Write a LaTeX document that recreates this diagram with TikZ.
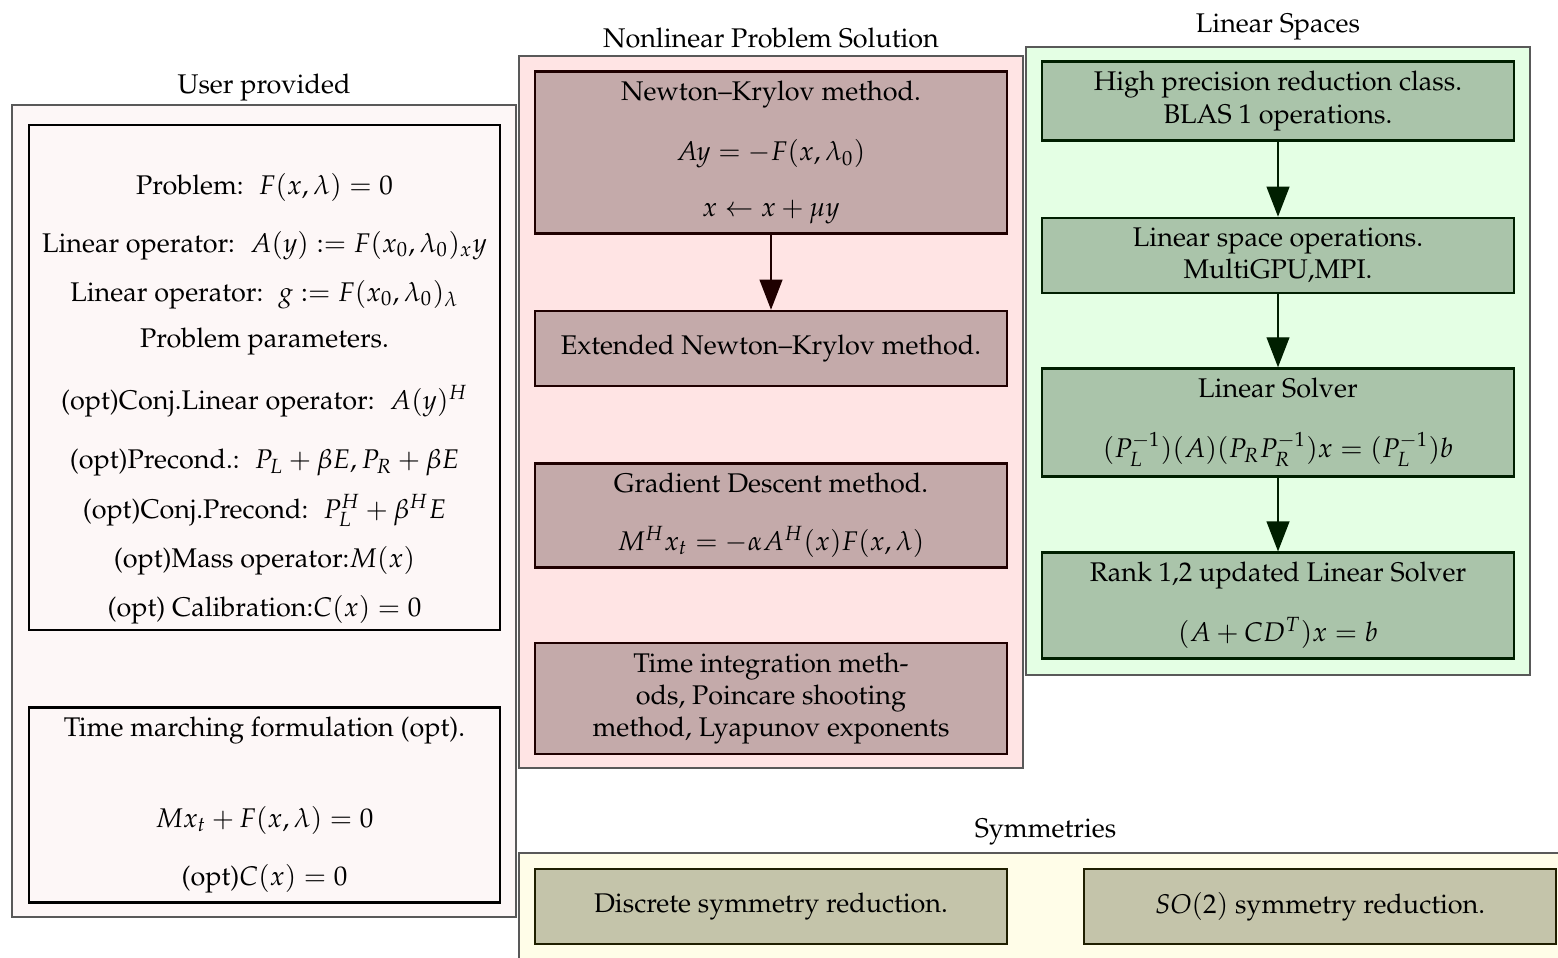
\documentclass[tikz,border=0pt]{standalone}
\usepackage[T1]{fontenc}
\usepackage{mathpazo}
\usepackage{amsmath}
\usetikzlibrary{arrows.meta,positioning}
\definecolor{usrfill}{RGB}{253,247,247}
\definecolor{nlfill}{RGB}{255,228,228}
\definecolor{nlbox}{RGB}{196,170,170}
\definecolor{nldraw}{RGB}{31,0,0}
\definecolor{lsfill}{RGB}{228,255,228}
\definecolor{lsbox}{RGB}{170,196,170}
\definecolor{lsdraw}{RGB}{0,31,0}
\definecolor{syfill}{RGB}{255,253,232}
\definecolor{sybox}{RGB}{196,196,170}
\definecolor{sydraw}{RGB}{31,31,0}

\tikzset{
  panel/.style={draw=black!65, line width=0.5pt},
  paneltitle/.style={inner sep=3pt},
  usrbox/.style={draw=black, line width=0.9pt, fill=usrfill, minimum width=164.85pt, align=center},
  nlblock/.style={draw=nldraw, line width=0.9pt, fill=nlbox, minimum width=165.2pt, align=center},
  lsblock/.style={draw=lsdraw, line width=0.9pt, fill=lsbox, minimum width=165.2pt, align=center},
  syblock/.style={draw=sydraw, line width=0.9pt, fill=sybox, minimum width=165.2pt, minimum height=26.25pt, align=center},
  nlarrow/.style={-{Triangle[length=10.5pt,width=8pt]}, draw=nldraw, line width=0.5pt},
  lsarrow/.style={-{Triangle[length=10.5pt,width=8pt]}, draw=lsdraw, line width=0.5pt}
}

\begin{document}
\begin{tikzpicture}[x=0.35pt, y=-0.35pt, font=\fontsize{9.45pt}{11.3pt}\selectfont]
\useasboundingbox (0,0) rectangle (1558,958);

% User provided
\node[panel, fill=usrfill, minimum width=176.4pt, minimum height=284.2pt] (usrpanel) at (264,511) {};
\node[paneltitle, above=-2pt of usrpanel] (usrtitle) {User provided};
\node[usrbox, inner ysep=0.5pt, minimum height=176.75pt] (usrprob) at (264.5,377.5) {\rule{0pt}{22pt}Problem:~ $F(x,\lambda)=0$\\[9pt]
  Linear operator:~ $A(y):=F(x_0,\lambda_0)_x y$\\[5.85pt]
  Linear operator:~ $g:=F(x_0,\lambda_0)_\lambda$\\[4.8pt]
  Problem parameters.\\[10.4pt]
  (opt)Conj.Linear operator:~ $A(y)^H$\\[9.5pt]
  (opt)Precond.:~ $P_L+\beta E, P_R+\beta E$\\[6.1pt]
  (opt)Conj.Precond:~ $P_L^H+\beta^H E$\\[5.85pt]
  (opt)Mass operator:$M(x)$\\[5.85pt]
  (opt) Calibration:$C(x)=0$};
\node[usrbox, minimum height=67.9pt] (usrtime) at (264.5,805) {Time marching formulation (opt).\\[20.55pt]
  $Mx_t+F(x,\lambda)=0$\\[9pt]
  (opt)$C(x)=0$};

% Nonlinear Problem Solution
\node[panel, fill=nlfill, minimum width=176.4pt, minimum height=249.2pt] (nlpanel) at (771,412) {};
\node[paneltitle, above=-0.8pt of nlpanel] (nltitle) {Nonlinear Problem Solution};
\node[nlblock, minimum height=56.35pt] (nk) at (771,152.5) {Newton--Krylov method.\\[9.7pt]
  $Ay=-F(x,\lambda_0)$\\[8.3pt]
  $x\leftarrow x+\mu y$};
\node[nlblock, minimum height=26.25pt] (enk) at (771,348.5) {Extended Newton--Krylov method.};
\node[nlblock, minimum height=36.05pt] (gd) at (771,515.5) {Gradient Descent method.\\[9pt]
  $M^Hx_t=-\alpha A^H(x)F(x,\lambda)$};
\node[nlblock, minimum height=37.45pt] (ti) at (771,698.5) {Time integration meth-\\
  ods, Poincare shooting\\
  method, Lyapunov exponents};
\draw[nlarrow] (nk) -- (enk);

% Linear Spaces
\node[panel, fill=lsfill, minimum width=176.4pt, minimum height=219.8pt] (lspanel) at (1278,361) {};
\node[paneltitle, above=-1.2pt of lspanel] (lstitle) {Linear Spaces};
\node[lsblock, minimum height=26.6pt] (hp) at (1278,101) {High precision reduction class.\\
  BLAS 1 operations.};
\node[lsblock, minimum height=26.25pt] (lso) at (1278,255.5) {Linear space operations.\\
  MultiGPU,MPI.};
\node[lsblock, minimum height=36.05pt] (lsol) at (1278,422.5) {Linear Solver\\[9.7pt]
  $(P_L^{-1})(A)(P_RP_R^{-1})x=(P_L^{-1})b$};
\node[lsblock, minimum height=36.75pt] (rk) at (1278,605.5) {Rank 1,2 updated Linear Solver\\[9.7pt]
  $(A+CD^T)x=b$};
\foreach \a/\b in {hp/lso, lso/lsol, lsol/rk}{
  \draw[lsarrow] (\a) -- (\b);
}

% Symmetries
\node[panel, fill=syfill, minimum width=368.55pt, minimum height=37.45pt] (sypanel) at (1045.5,906.5) {};
\node[paneltitle, above=-0.8pt of sypanel] (sytitle) {Symmetries};
\node[syblock] (dsym) at (771,906.5) {Discrete symmetry reduction.};
\node[syblock] (so2) at (1320,906.5) {$SO(2)$ symmetry reduction.};

\end{tikzpicture}
\end{document}
